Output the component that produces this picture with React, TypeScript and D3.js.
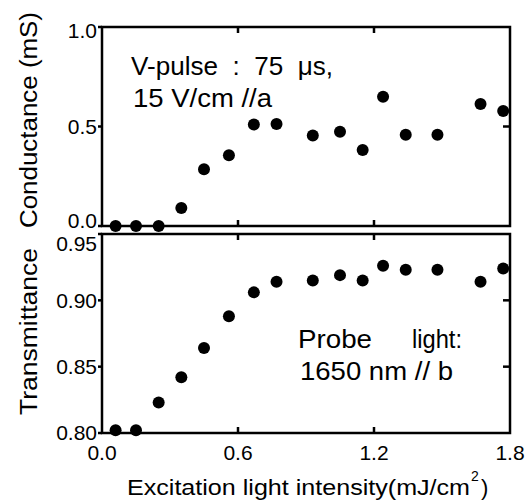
import React from "react";
import * as d3 from "d3";

const intensity = [0.06, 0.15, 0.25, 0.35, 0.45, 0.56, 0.67, 0.77, 0.93, 1.05, 1.15, 1.24, 1.34, 1.48, 1.67, 1.77];
const conductance = [0, 0, 0, 0.09, 0.285, 0.355, 0.51, 0.513, 0.455, 0.474, 0.382, 0.65, 0.459, 0.459, 0.613, 0.578];
const transmittance = [0.802, 0.802, 0.823, 0.842, 0.864, 0.888, 0.906, 0.914, 0.915, 0.919, 0.915, 0.926, 0.923, 0.923, 0.914, 0.924];

const xTicks = [0.0, 0.6, 1.2, 1.8];
const xTickLabels = ["0.0", "0.6", "1.2", "1.8"];
const condTicks = [0.0, 0.5, 1.0];
const condTickLabels = ["0.0", "0.5", "1.0"];
const transTicks = [0.8, 0.85, 0.9, 0.95];
const transTickLabels = ["0.80", "0.85", "0.90", "0.95"];

const FONT = "'Liberation Sans', Arial, sans-serif";

export default function App() {
  const left = 102, right = 510;
  const topY0 = 27, topY1 = 226;
  const botY0 = 234, botY1 = 433;
  const x = d3.scaleLinear().domain([0, 1.8]).range([left, right]);
  const yC = d3.scaleLinear().domain([0, 1.0]).range([topY1, topY0]);
  const yT = d3.scaleLinear().domain([0.8, 0.95]).range([botY1, botY0]);
  const sw = 2.5;
  const inner = xTicks.filter((t) => t > 0 && t < 1.8);

  const panel = (y0: number, y1: number, ys: d3.ScaleLinear<number, number>, ticks: number[], labels: string[], nudges: number[], values: number[]) => (
    <g>
      <rect x={left} y={y0} width={right - left} height={y1 - y0} fill="none" stroke="#000" strokeWidth={sw} />
      {inner.map((t) => (
        <g key={"xt" + t}>
          <line x1={x(t)} x2={x(t)} y1={y0} y2={y0 + 6} stroke="#000" strokeWidth={sw} />
          <line x1={x(t)} x2={x(t)} y1={y1} y2={y1 - 6} stroke="#000" strokeWidth={sw} />
        </g>
      ))}
      {ticks.map((t, i) => (
        <g key={"yt" + t}>
          <line x1={left} x2={left - 4} y1={ys(t)} y2={ys(t)} stroke="#000" strokeWidth={sw} />
          {i > 0 && i < ticks.length - 1 && (
            <line x1={right} x2={right - 7} y1={ys(t)} y2={ys(t)} stroke="#000" strokeWidth={sw} />
          )}
          <text x={97} y={ys(t) + nudges[i]} textAnchor="end" dominantBaseline="central" fontSize={21} fontFamily={FONT}>
            {labels[i]}
          </text>
        </g>
      ))}
      {values.map((v, i) => (
        <circle key={"p" + i} cx={x(intensity[i])} cy={ys(v)} r={6} fill="#000" />
      ))}
    </g>
  );

  return (
    <svg width={530} height={501} style={{ position: "absolute", left: 0, top: 0, background: "#fff" }}>
      <rect x={0} y={0} width={530} height={501} fill="#fff" />
      {panel(topY0, topY1, yC, condTicks, condTickLabels, [-6, 0, 3], conductance)}
      {panel(botY0, botY1, yT, transTicks, transTickLabels, [-1, 0, 0, 9], transmittance)}
      {xTicks.map((t, i) => (
        <text key={"xl" + t} x={x(t)} y={460} textAnchor="middle" fontSize={21} fontFamily={FONT}>
          {xTickLabels[i]}
        </text>
      ))}
      <text x={127} y={495} fontSize={22} fontFamily={FONT} textLength={343} lengthAdjust="spacingAndGlyphs">
        Excitation light intensity(mJ/cm
      </text>
      <text x={471} y={481} fontSize={14} fontFamily={FONT}>2</text>
      <text x={481} y={495} fontSize={22} fontFamily={FONT}>)</text>
      <text transform="translate(37,228) rotate(-90)" fontSize={23} fontFamily={FONT} textLength={216} lengthAdjust="spacingAndGlyphs">
        Conductance (mS)
      </text>
      <text transform="translate(37,415) rotate(-90)" fontSize={23} fontFamily={FONT} textLength={167} lengthAdjust="spacingAndGlyphs">
        Transmittance
      </text>
      <text x={131} y={75} fontSize={25} fontFamily={FONT} textLength={202} lengthAdjust="spacingAndGlyphs" style={{ whiteSpace: "pre" }}>
        {"V-pulse  :  75  μs,"}
      </text>
      <text x={133} y={107} fontSize={25} fontFamily={FONT} textLength={139} lengthAdjust="spacingAndGlyphs" style={{ whiteSpace: "pre" }}>
        {"15 V/cm //a"}
      </text>
      <text x={298} y={348} fontSize={25} fontFamily={FONT} textLength={74} lengthAdjust="spacingAndGlyphs">Probe</text>
      <text x={412} y={348} fontSize={25} fontFamily={FONT} textLength={50} lengthAdjust="spacingAndGlyphs">light:</text>
      <text x={300} y={380} fontSize={25} fontFamily={FONT} textLength={153} lengthAdjust="spacingAndGlyphs" style={{ whiteSpace: "pre" }}>
        {"1650 nm // b"}
      </text>
    </svg>
  );
}
